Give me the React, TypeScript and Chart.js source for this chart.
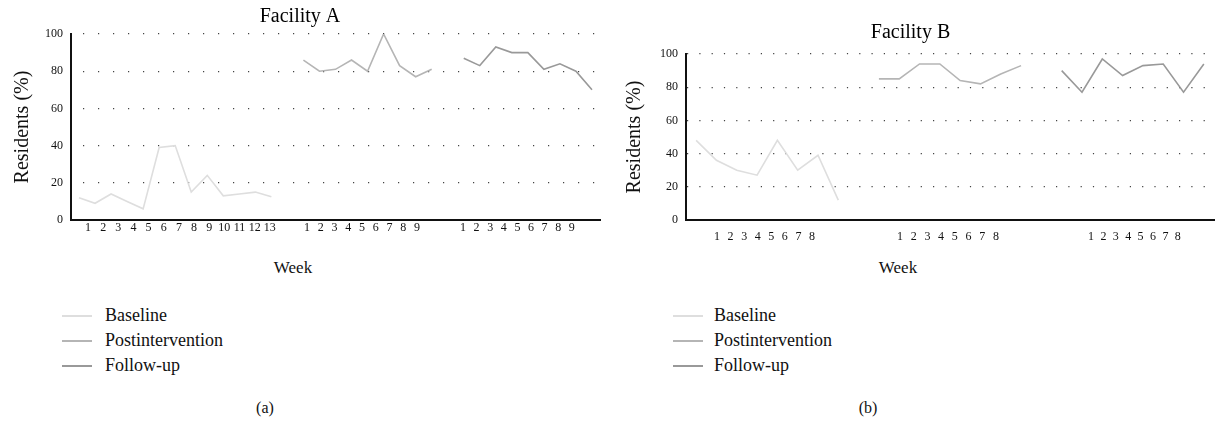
import React, { useEffect, useRef } from "react";
import { Chart, registerables } from "chart.js";
Chart.register(...registerables);

// ---------- data ----------
const baselineWeeksA = ["1", "2", "3", "4", "5", "6", "7", "8", "9", "10", "11", "12", "13"];
const postWeeksA = ["1", "2", "3", "4", "5", "6", "7", "8", "9"];
const followWeeksA = ["1", "2", "3", "4", "5", "6", "7", "8", "9"];
const baselineA = [12, 9, 14, 10, 6, 39, 40, 15, 24, 13, 14, 15, 12.5];
const postA = [86, 80, 81, 86, 80, 100, 83, 77, 81];
const followA = [87, 83, 93, 90, 90, 81, 84, 80, 70];

const baselineWeeksB = ["1", "2", "3", "4", "5", "6", "7", "8"];
const postWeeksB = ["1", "2", "3", "4", "5", "6", "7", "8"];
const followWeeksB = ["1", "2", "3", "4", "5", "6", "7", "8"];
const baselineB = [48, 36, 30, 27, 48, 30, 39, 12];
const postB = [85, 85, 94, 94, 84, 82, 88, 93];
const followB = [90, 77, 97, 87, 93, 94, 77, 94];

const yTicks = [0, 20, 40, 60, 80, 100];
const seriesNames = ["Baseline", "Postintervention", "Follow-up"];

// ---------- styles ----------
const COLORS = ["#dedede", "#b5b5b5", "#999999"];
const FONT = "'Liberation Serif', 'Times New Roman', serif";

type Group = { labels: string[]; startPx: number; stepPx: number };

type PanelProps = {
  title: string;
  series: number[][];
  starts: number[];
  nCats: number;
  groups: Group[];
  canvasLeft: number;
  canvasWidth: number;
  yAxisWidth: number;
  padRight: number;
  titlePadTop: number;
  titlePadBottom: number;
  yTitlePad: number;
  xTickPad: number;
  dashStep: number;
  dashOffset: number;
};

function Panel(p: PanelProps) {
  const ref = useRef<HTMLCanvasElement | null>(null);
  useEffect(() => {
    if (!ref.current) return;
    const areaLeftPage = p.canvasLeft + p.yAxisWidth;
    const areaRightPage = p.canvasLeft + p.canvasWidth - p.padRight;
    const unit = (areaRightPage - areaLeftPage) / p.nCats;
    const tickVals: number[] = [];
    const tickLabels: string[] = [];
    p.groups.forEach((g) => {
      g.labels.forEach((lab, i) => {
        const px = g.startPx + g.stepPx * i;
        tickVals.push((px - areaLeftPage) / unit - 0.5);
        tickLabels.push(lab);
      });
    });
    const datasets = p.series.map((vals, si) => ({
      label: seriesNames[si],
      data: vals.map((y, i) => ({ x: p.starts[si] + i, y })),
      borderColor: COLORS[si],
      backgroundColor: COLORS[si],
      borderWidth: 1.6,
      pointRadius: 0,
      fill: false,
      tension: 0,
    }));
    const chart = new Chart(ref.current, {
      type: "line",
      data: { datasets },
      options: {
        animation: false,
        responsive: false,
        maintainAspectRatio: false,
        layout: { padding: { left: 0, right: p.padRight, top: 0, bottom: 0 } },
        plugins: {
          legend: { display: false },
          tooltip: { enabled: false },
          title: {
            display: true,
            text: p.title,
            color: "#000",
            font: { family: FONT, size: 20, weight: "normal" },
            padding: { top: p.titlePadTop, bottom: p.titlePadBottom },
          },
        },
        scales: {
          x: {
            type: "linear",
            min: -0.5,
            max: p.nCats - 0.5,
            grid: { display: false, drawTicks: false },
            border: { display: true, color: "#111", width: 2 },
            ticks: {
              autoSkip: false,
              maxRotation: 0,
              minRotation: 0,
              padding: p.xTickPad,
              color: "#111",
              font: { family: FONT, size: 12 },
              callback: (_v: any, i: number) => tickLabels[i] ?? "",
            },
            afterBuildTicks: (s: any) => {
              s.ticks = tickVals.map((v) => ({ value: v }));
            },
            afterFit: (s: any) => {
              s.height = 30;
            },
          },
          y: {
            min: 0,
            max: 100,
            afterBuildTicks: (s: any) => {
              s.ticks = yTicks.map((v) => ({ value: v }));
            },
            grid: { color: "#444", lineWidth: 1.2, drawTicks: false },
            border: {
              display: true,
              color: "#111",
              width: 2,
              dash: [1.2, p.dashStep - 1.2],
              dashOffset: p.dashOffset,
            },
            ticks: {
              padding: 8,
              color: "#111",
              font: { family: FONT, size: 12 },
            },
            title: {
              display: true,
              text: "Residents (%)",
              color: "#111",
              font: { family: FONT, size: 20, weight: "normal" },
              padding: { top: p.yTitlePad, bottom: 0 },
            },
            afterFit: (s: any) => {
              s.width = p.yAxisWidth;
            },
          },
        },
      } as any,
    });
    return () => chart.destroy();
  }, []);
  return (
    <canvas
      ref={ref}
      width={p.canvasWidth}
      height={250}
      style={{ position: "absolute", left: p.canvasLeft, top: 0, width: p.canvasWidth, height: 250 }}
    />
  );
}

function Legend({ left, textLeft }: { left: number; textLeft: number }) {
  const ys = [316, 341, 366];
  return (
    <>
      {seriesNames.map((n, i) => (
        <React.Fragment key={n}>
          <div
            style={{
              position: "absolute",
              left,
              top: ys[i] - 1,
              width: 30,
              height: 2,
              background: COLORS[i],
            }}
          />
          <div
            style={{
              position: "absolute",
              left: textLeft,
              top: ys[i] - 13,
              height: 24,
              lineHeight: "24px",
              fontFamily: FONT,
              fontSize: 18,
              color: "#111",
              whiteSpace: "nowrap",
            }}
          >
            {n}
          </div>
        </React.Fragment>
      ))}
    </>
  );
}

function Centered({ x, y, size, text }: { x: number; y: number; size: number; text: string }) {
  return (
    <div
      style={{
        position: "absolute",
        left: x,
        top: y,
        transform: "translate(-50%, -50%)",
        fontFamily: FONT,
        fontSize: size,
        lineHeight: 1.2,
        color: "#111",
        whiteSpace: "nowrap",
      }}
    >
      {text}
    </div>
  );
}

export default function App() {
  return (
    <div
      style={{
        position: "absolute",
        left: 0,
        top: 0,
        width: 1215,
        height: 421,
        background: "#fff",
        overflow: "hidden",
      }}
    >
      <Panel
        title="Facility A"
        series={[baselineA, postA, followA]}
        starts={[0, 14, 24]}
        nCats={33}
        groups={[
          { labels: baselineWeeksA, startPx: 88, stepPx: 15.15 },
          { labels: postWeeksA, startPx: 307, stepPx: 13.75 },
          { labels: followWeeksA, startPx: 463, stepPx: 13.6 },
        ]}
        canvasLeft={0}
        canvasWidth={607}
        yAxisWidth={71}
        padRight={7}
        titlePadTop={5}
        titlePadBottom={5}
        yTitlePad={11}
        xTickPad={1}
        dashStep={15}
        dashOffset={4}
      />
      <Panel
        title="Facility B"
        series={[baselineB, postB, followB]}
        starts={[0, 9, 18]}
        nCats={26}
        groups={[
          { labels: baselineWeeksB, startPx: 717, stepPx: 13.57 },
          { labels: postWeeksB, startPx: 900, stepPx: 13.7 },
          { labels: followWeeksB, startPx: 1091, stepPx: 12.4 },
        ]}
        canvasLeft={607}
        canvasWidth={608}
        yAxisWidth={79}
        padRight={1}
        titlePadTop={21}
        titlePadBottom={9}
        yTitlePad={16}
        xTickPad={10}
        dashStep={12.3}
        dashOffset={0}
      />
      <Centered x={293} y={268} size={17} text="Week" />
      <Centered x={898} y={268} size={17} text="Week" />
      <Legend left={62} textLeft={105} />
      <Legend left={673} textLeft={714} />
      <Centered x={265} y={408} size={16} text="(a)" />
      <Centered x={868} y={408} size={16} text="(b)" />
    </div>
  );
}
